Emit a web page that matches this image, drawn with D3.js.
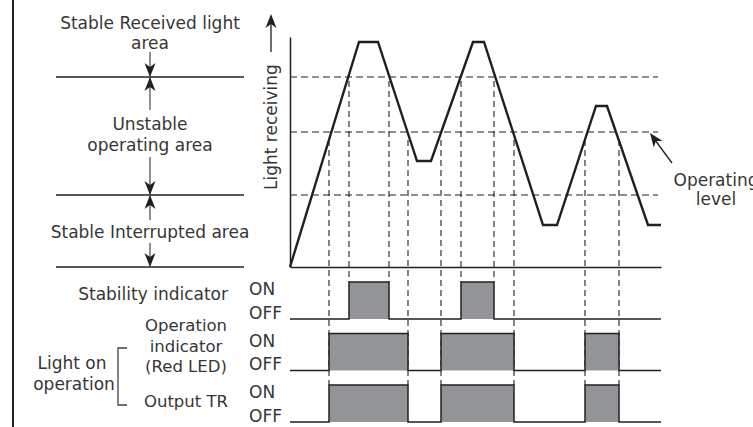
<!DOCTYPE html>
<html>
<head>
<meta charset="utf-8">
<script src="https://cdn.jsdelivr.net/npm/d3@7"></script>
<style>
  body { margin: 0; background: #fff; }
  text { font-family: "DejaVu Sans", sans-serif; font-size: 17px; fill: #363636; }
</style>
</head>
<body>
<div id="chart"></div>
<script>
// Light received over time (time in arbitrary units, level 0..230)
var waveTime  = [0, 69, 88, 127, 141, 183, 194, 253, 267, 306, 317, 358, 371];
var waveLevel = [0, 225, 225, 106, 106, 225, 225, 42, 42, 161, 161, 42, 42];

// Threshold levels
var stableOnLevel = 190;   // above: stable received light
var operatingLevel = 135;  // operating level
var stableOffLevel = 72;   // below: stable interrupted

// ON intervals of each output signal
var stabilityOn = [[59, 99], [171, 204]];
var operationOn = [[39, 118], [151, 224], [295, 329]];
var outputOn    = [[39, 118], [151, 224], [295, 329]];

var rowNames = ["stability", "operation", "output"];

var svgWidth = 753;
var svgHeight = 427;

var svg = d3.select("#chart")
    .append("svg")
    .attr("width", svgWidth)
    .attr("height", svgHeight);

var x = d3.scaleLinear().domain([0, 371]).range([290, 661]);
var y = d3.scaleLinear().domain([0, 230]).range([267, 37]);
var row = d3.scaleBand().domain(rowNames).range([282, 422]).paddingInner(0.2816);

var ink = "#231f20";

// arrowhead with the tip at (0,0) pointing up, rotated by angle
function arrowHead(g, tx, ty, angle) {
    g.append("path")
        .attr("d", "M0,0 L5.5,14 L0,10 L-5.5,14 Z")
        .attr("transform", `translate(${tx},${ty}) rotate(${angle})`)
        .attr("fill", ink);
}

// left frame line
svg.append("line")
    .attr("x1", 13).attr("x2", 13)
    .attr("y1", 0).attr("y2", svgHeight)
    .attr("stroke", ink).attr("stroke-width", 2);

// ---- left zone legend ----
var zoneGroup = svg.append("g");
[stableOnLevel, stableOffLevel, 0].forEach(function (lv) {
    zoneGroup.append("line")
        .attr("x1", 56).attr("x2", 244)
        .attr("y1", y(lv)).attr("y2", y(lv))
        .attr("stroke", ink).attr("stroke-width", 1.3);
});

var zx = 150;
var stems = [
    [52, y(stableOnLevel), 180],
    [110, y(stableOnLevel), 0],
    [157, y(stableOffLevel), 180],
    [220, y(stableOffLevel), 0],
    [243, y(0), 180]
];
stems.forEach(function (s) {
    zoneGroup.append("line")
        .attr("x1", zx).attr("x2", zx)
        .attr("y1", s[0]).attr("y2", s[1])
        .attr("stroke", "#555").attr("stroke-width", 1.3);
    arrowHead(zoneGroup, zx, s[1], s[2]);
});

var zoneText = [
    ["Stable Received light", 29],
    ["area", 49],
    ["Unstable", 130],
    ["operating area", 151],
    ["Stable Interrupted area", 238]
];
zoneText.forEach(function (t) {
    zoneGroup.append("text")
        .attr("x", zx).attr("y", t[1])
        .attr("text-anchor", "middle")
        .text(t[0]);
});

// ---- main light chart ----
var chartGroup = svg.append("g");

// dashed threshold lines
[stableOnLevel, operatingLevel, stableOffLevel].forEach(function (lv) {
    chartGroup.append("line")
        .attr("x1", x(0)).attr("x2", x(368))
        .attr("y1", y(lv)).attr("y2", y(lv))
        .attr("stroke", ink).attr("stroke-width", 1.1)
        .attr("stroke-dasharray", "7,4");
});

// vertical dashed guides at switching points
var stabEdges = stabilityOn.flat();
var opEdges = operationOn.flat();
stabEdges.forEach(function (t) {
    chartGroup.append("line")
        .attr("x1", x(t)).attr("x2", x(t))
        .attr("y1", y(stableOnLevel) + 4).attr("y2", row("stability"))
        .attr("stroke", ink).attr("stroke-width", 1.1)
        .attr("stroke-dasharray", "6,4");
});
opEdges.forEach(function (t) {
    chartGroup.append("line")
        .attr("x1", x(t)).attr("x2", x(t))
        .attr("y1", y(operatingLevel) + 8).attr("y2", row("output"))
        .attr("stroke", ink).attr("stroke-width", 1.1)
        .attr("stroke-dasharray", "6,4");
});

// axes (plain lines)
chartGroup.append("g")
    .attr("transform", `translate(0, ${y(0)})`)
    .call(d3.axisBottom(x).tickValues([]).tickSizeOuter(0))
    .select(".domain").attr("stroke", ink).attr("stroke-width", 1.5);
chartGroup.append("g")
    .attr("transform", `translate(${x(0)}, 0)`)
    .call(d3.axisLeft(y).tickValues([]).tickSizeOuter(0))
    .select(".domain").attr("stroke", ink).attr("stroke-width", 1.5);

// the wave
var line = d3.line()
    .x(function (d, i) { return x(waveTime[i]); })
    .y(function (d, i) { return y(waveLevel[i]); });
chartGroup.append("path")
    .attr("d", line(waveTime))
    .attr("fill", "none")
    .attr("stroke", ink)
    .attr("stroke-width", 2.4)
    .attr("stroke-linejoin", "miter");

// y label + arrow
chartGroup.append("text")
    .attr("transform", "translate(277, 190) rotate(-90)")
    .text("Light receiving");
chartGroup.append("line")
    .attr("x1", 271).attr("x2", 271)
    .attr("y1", 52).attr("y2", 20)
    .attr("stroke", ink).attr("stroke-width", 1.3);
arrowHead(chartGroup, 271, 14, 0);

// operating level label
chartGroup.append("text").attr("x", 716).attr("y", 186)
    .attr("text-anchor", "middle").text("Operating");
chartGroup.append("text").attr("x", 716).attr("y", 205)
    .attr("text-anchor", "middle").text("level");
chartGroup.append("line")
    .attr("x1", 672).attr("y1", 163)
    .attr("x2", 655).attr("y2", 140)
    .attr("stroke", ink).attr("stroke-width", 1.3);
arrowHead(chartGroup, 650, 133, -36);

// ---- timing rows ----
var rowData = { stability: stabilityOn, operation: operationOn, output: outputOn };
var timingGroup = svg.append("g");

rowNames.forEach(function (name) {
    var pulses = rowData[name];
    var top = row(name);
    var bottom = top + row.bandwidth();

    timingGroup.selectAll(null)
        .data(pulses)
        .enter()
        .append("rect")
        .attr("x", d => x(d[0]))
        .attr("y", top)
        .attr("width", d => x(d[1]) - x(d[0]))
        .attr("height", bottom - top)
        .attr("fill", "#939497");

    // signal outline
    var pts = [[0, bottom]];
    pulses.forEach(function (p) {
        pts.push([p[0], bottom], [p[0], top], [p[1], top], [p[1], bottom]);
    });
    pts.push([371, bottom]);
    timingGroup.append("path")
        .attr("d", d3.line().x(d => x(d[0])).y(d => d[1])(pts))
        .attr("fill", "none")
        .attr("stroke", ink)
        .attr("stroke-width", 1.5);

    timingGroup.append("text").attr("x", 249).attr("y", top + 13).text("ON");
    timingGroup.append("text").attr("x", 249).attr("y", bottom).text("OFF");
});

// row labels
var labelGroup = svg.append("g");
labelGroup.append("text").attr("x", 228).attr("y", 300)
    .attr("text-anchor", "end").text("Stability indicator");
[["Operation", 331], ["indicator", 352], ["(Red LED)", 372], ["Output TR", 407]].forEach(function (t) {
    labelGroup.append("text").attr("x", 186).attr("y", t[1])
        .attr("text-anchor", "middle")
        .style("font-size", "16.5px")
        .text(t[0]);
});
labelGroup.append("text").attr("x", 72).attr("y", 369)
    .attr("text-anchor", "middle").text("Light on");
labelGroup.append("text").attr("x", 74).attr("y", 390)
    .attr("text-anchor", "middle").text("operation");

// bracket
labelGroup.append("path")
    .attr("d", "M127,348 H118 V405 H127")
    .attr("fill", "none")
    .attr("stroke", "#444")
    .attr("stroke-width", 1.3);
</script>
</body>
</html>
